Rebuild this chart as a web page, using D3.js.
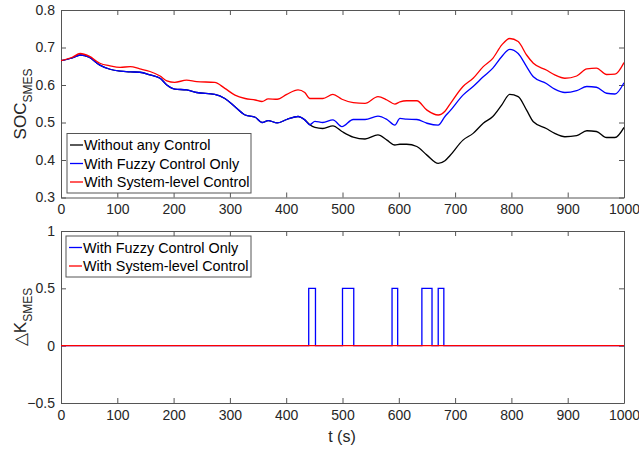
<!DOCTYPE html>
<html>
<head>
<meta charset="utf-8">
<script src="https://cdn.jsdelivr.net/npm/d3@7"></script>
<style>
  body { margin: 0; background: #fff; }
  svg { display: block; font-family: 'Liberation Sans', Arial, sans-serif; }
</style>
</head>
<body>
<div id="chart"></div>
<script>
// sample times (s) for the SOC curves
const times = [0, 20, 34, 50, 69, 87, 105, 123, 140, 158, 176, 188, 202, 223, 241, 273, 291, 309, 327, 345,
  357, 368, 384, 401, 421, 433, 442, 451, 465, 483, 499, 519, 540, 563, 579, 593, 602, 614, 632, 650,
  670, 682, 691, 714, 732, 750, 767, 783, 797, 812, 827, 839, 862, 877, 895, 916, 934, 951, 969, 984, 1000];

const socNoControl = [0.665, 0.672, 0.680, 0.674, 0.653, 0.642, 0.637, 0.635, 0.634, 0.627, 0.618, 0.600, 0.589, 0.587, 0.580, 0.575, 0.564, 0.542, 0.520, 0.514,
  0.500, 0.505, 0.499, 0.508, 0.516, 0.507, 0.494, 0.487, 0.484, 0.491, 0.476, 0.461, 0.456, 0.467, 0.453, 0.440, 0.442, 0.442, 0.436, 0.413,
  0.391, 0.398, 0.412, 0.453, 0.471, 0.498, 0.516, 0.547, 0.575, 0.569, 0.533, 0.502, 0.484, 0.471, 0.462, 0.465, 0.478, 0.476, 0.460, 0.460, 0.487];

const socFuzzy = [0.665, 0.672, 0.680, 0.674, 0.653, 0.642, 0.637, 0.635, 0.634, 0.627, 0.618, 0.600, 0.589, 0.587, 0.580, 0.575, 0.564, 0.542, 0.520, 0.514,
  0.500, 0.505, 0.499, 0.508, 0.516, 0.507, 0.494, 0.503, 0.500, 0.507, 0.489, 0.508, 0.508, 0.517, 0.508, 0.493, 0.511, 0.509, 0.508, 0.498,
  0.493, 0.516, 0.531, 0.573, 0.596, 0.622, 0.645, 0.676, 0.695, 0.684, 0.649, 0.622, 0.604, 0.589, 0.580, 0.585, 0.596, 0.594, 0.578, 0.576, 0.606];

const socSystem = [0.665, 0.674, 0.684, 0.677, 0.658, 0.651, 0.647, 0.649, 0.643, 0.636, 0.624, 0.611, 0.607, 0.613, 0.609, 0.607, 0.591, 0.573, 0.564, 0.560,
  0.556, 0.563, 0.562, 0.575, 0.587, 0.580, 0.564, 0.564, 0.564, 0.575, 0.562, 0.553, 0.551, 0.569, 0.560, 0.549, 0.555, 0.558, 0.558, 0.533,
  0.520, 0.530, 0.549, 0.596, 0.618, 0.649, 0.671, 0.707, 0.724, 0.716, 0.680, 0.658, 0.640, 0.627, 0.618, 0.624, 0.643, 0.645, 0.628, 0.629, 0.660];

// fuzzy control pulses (dK = 0.5 between on/off), system-level stays at 0
const pulseOn = [440, 500, 588, 641, 670];
const pulseOff = [452, 520, 598, 659, 680];
const pulseLevel = 0.5;

const xTicks = [0, 100, 200, 300, 400, 500, 600, 700, 800, 900, 1000];
const socTicks = [0.3, 0.4, 0.5, 0.6, 0.7, 0.8];
const dkTicks = [-0.5, 0, 0.5, 1];

const W = 639, H = 449;
const AX = '#262626';
const FONT = "'Liberation Sans', Arial, sans-serif";
const svg = d3.select('#chart').append('svg').attr('width', W).attr('height', H);
svg.append('rect').attr('width', W).attr('height', H).attr('fill', '#fff');

const x = d3.scaleLinear().domain([0, 1000]).range([61, 624]);
const yTop = d3.scaleLinear().domain([0.3, 0.8]).range([197.5, 10]);
const yBot = d3.scaleLinear().domain([-0.5, 1]).range([403, 231]);

function drawAxes(y, yt, fmt) {
  const g = svg.append('g');
  const [y0, y1] = y.range();
  g.append('g').attr('transform', `translate(0,${y0})`)
    .call(d3.axisBottom(x).tickValues(xTicks).tickSizeInner(-5).tickSizeOuter(0).tickPadding(7).tickFormat(d3.format('d')));
  g.append('g').attr('transform', `translate(0,${y1})`)
    .call(d3.axisTop(x).tickValues(xTicks).tickSizeInner(-5).tickSizeOuter(0).tickFormat(''));
  g.append('g').attr('transform', `translate(${x.range()[0]},0)`)
    .call(d3.axisLeft(y).tickValues(yt).tickSizeInner(-5).tickSizeOuter(0).tickPadding(6).tickFormat(fmt));
  g.append('g').attr('transform', `translate(${x.range()[1]},0)`)
    .call(d3.axisRight(y).tickValues(yt).tickSizeInner(-5).tickSizeOuter(0).tickFormat(''));
  g.selectAll('.domain').attr('stroke', '#555');
  g.selectAll('.tick line').attr('stroke', '#555');
  g.selectAll('.tick text').attr('fill', AX).attr('font-family', FONT).attr('font-size', 14);
}

function legend(x0, y0, w, items) {
  const g = svg.append('g').attr('transform', `translate(${x0},${y0})`);
  const rowH = 18.5;
  g.append('rect').attr('width', w).attr('height', items.length * rowH + 4)
    .attr('fill', '#fff').attr('stroke', '#555').attr('stroke-width', 1);
  items.forEach((it, i) => {
    const cy = 11.5 + i * rowH;
    g.append('line').attr('x1', 3).attr('x2', 16).attr('y1', cy).attr('y2', cy)
      .attr('stroke', it.color).attr('stroke-width', 1.3);
    g.append('text').attr('x', 17).attr('y', cy).attr('dy', '0.35em')
      .attr('font-size', 14.4).attr('fill', '#000').text(it.label);
  });
}

// ---- top panel: SOC
svg.append('clipPath').attr('id', 'ct').append('rect')
  .attr('x', 61).attr('y', 10).attr('width', 563).attr('height', 187.5);
drawAxes(yTop, socTicks, d3.format('.1f'));

const lineTop = d3.line().x((d, i) => x(times[i])).y(d => yTop(d)).curve(d3.curveMonotoneX);
const series = [
  { vals: socNoControl, color: '#000000', label: 'Without any Control' },
  { vals: socFuzzy, color: '#0000ff', label: 'With Fuzzy Control Only' },
  { vals: socSystem, color: '#ff0000', label: 'With System-level Control' }
];
const gTop = svg.append('g').attr('clip-path', 'url(#ct)');
series.forEach(s => {
  gTop.append('path').attr('d', lineTop(s.vals)).attr('fill', 'none')
    .attr('stroke', s.color).attr('stroke-width', 1.3).attr('stroke-linejoin', 'round');
});
legend(67, 133.5, 184, series);

// ---- bottom panel: delta K
drawAxes(yBot, dkTicks, d => d === 0 ? '0' : d3.format('')(d));

const stepPts = [[0, 0]];
pulseOn.forEach((t, i) => {
  stepPts.push([t, 0], [t, pulseLevel], [pulseOff[i], pulseLevel], [pulseOff[i], 0]);
});
stepPts.push([1000, 0]);
const lineBot = d3.line().x(d => x(d[0])).y(d => yBot(d[1]));
svg.append('path').attr('d', lineBot(stepPts)).attr('fill', 'none')
  .attr('stroke', '#0000ff').attr('stroke-width', 1.3);
svg.append('path').attr('d', lineBot([[0, 0], [1000, 0]])).attr('fill', 'none')
  .attr('stroke', '#ff0000').attr('stroke-width', 1.3);
legend(66, 236, 185, series.slice(1));

// ---- axis labels
const lblTop = svg.append('text').attr('transform', 'translate(26,104) rotate(-90)')
  .attr('text-anchor', 'middle').attr('font-size', 17).attr('fill', AX);
lblTop.append('tspan').text('SOC');
lblTop.append('tspan').attr('font-size', 12).attr('dy', 6).text('SMES');

const lblBot = svg.append('text').attr('transform', 'translate(26,317) rotate(-90)')
  .attr('text-anchor', 'middle').attr('font-size', 17).attr('fill', AX);
lblBot.append('tspan').text('△K');
lblBot.append('tspan').attr('font-size', 12).attr('dy', 6).text('SMES');

svg.append('text').attr('x', 342).attr('y', 442).attr('text-anchor', 'middle')
  .attr('font-size', 16).attr('fill', AX).text('t (s)');
</script>
</body>
</html>
